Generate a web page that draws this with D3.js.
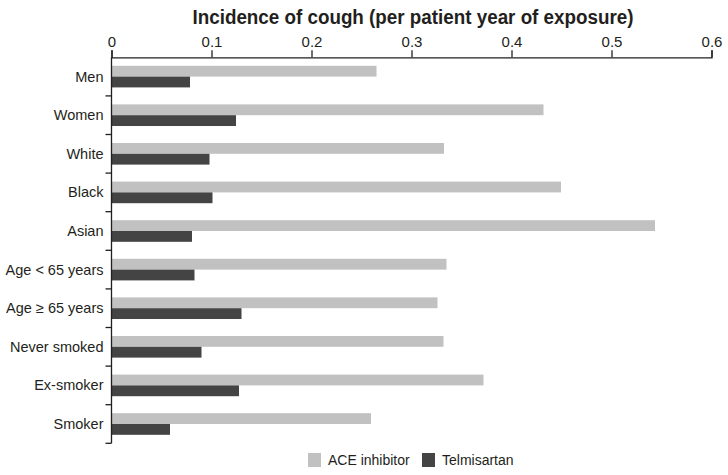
<!DOCTYPE html>
<html>
<head>
<meta charset="utf-8">
<script src="https://cdn.jsdelivr.net/npm/d3@7"></script>
<style>
  body { margin: 0; background: #fff; }
  text { font-family: "Liberation Sans", Arial, sans-serif; fill: #231f20; }
</style>
</head>
<body>
<svg width="728" height="475"></svg>
<script>
var categories = ["Men", "Women", "White", "Black", "Asian", "Age < 65 years",
                  "Age \u2265 65 years", "Never smoked", "Ex-smoker", "Smoker"];
var seriesNames = ["ACE inhibitor", "Telmisartan"];
var aceValues = [0.265, 0.432, 0.3325, 0.4495, 0.5435, 0.335, 0.326, 0.332, 0.372, 0.2595];
var telmiValues = [0.0785, 0.1245, 0.098, 0.101, 0.0805, 0.083, 0.13, 0.090, 0.1275, 0.0585];
var xTicks = [0, 0.1, 0.2, 0.3, 0.4, 0.5, 0.6];
var colors = ["#c1c1c1", "#444444"];

var svg = d3.select("svg"),
    margin = {top: 57.3, left: 111.5},
    width = 600,
    height = 386,
    g = svg.append("g").attr("transform", "translate(" + margin.left + "," + margin.top + ")");

var data = categories.map(function(c, i) {
  return {cat: c, values: [aceValues[i], telmiValues[i]]};
});

var x = d3.scaleLinear().domain([0, 0.6]).range([0, width]);

var y = d3.scaleBand()
    .domain(categories)
    .range([0, height])
    .paddingInner(0.44)
    .paddingOuter(0.22);

var y1 = d3.scaleBand()
    .domain([0, 1])
    .range([0, y.bandwidth()]);

// title
svg.append("text")
    .attr("x", 413)
    .attr("y", 24)
    .attr("text-anchor", "middle")
    .attr("font-size", 20)
    .attr("font-weight", "bold")
    .attr("textLength", 441)
    .attr("lengthAdjust", "spacingAndGlyphs")
    .text("Incidence of cough (per patient year of exposure)");

// bars
var rows = g.selectAll(".row")
  .data(data)
  .enter().append("g")
    .attr("class", "row")
    .attr("transform", function(d) { return "translate(0," + y(d.cat) + ")"; });

rows.selectAll("rect")
  .data(function(d) { return d.values; })
  .enter().append("rect")
    .attr("x", x(0))
    .attr("y", function(d, i) { return y1(i); })
    .attr("width", function(d) { return x(d) - x(0); })
    .attr("height", y1.bandwidth())
    .attr("fill", function(d, i) { return colors[i]; });

// top axis
var xAxis = g.append("g")
    .call(d3.axisTop(x).tickValues(xTicks).tickFormat(d3.format("")).tickSize(7).tickPadding(3));
xAxis.select(".domain").attr("stroke", "#231f20").attr("stroke-width", 1.3);
xAxis.selectAll(".tick line").attr("stroke", "#231f20").attr("stroke-width", 1.3);
xAxis.selectAll(".tick text")
    .attr("font-size", 15)
    .attr("font-family", "Liberation Sans, Arial, sans-serif")
    .attr("fill", "#231f20");

// left axis: line, ticks between categories, labels
g.append("line")
    .attr("x1", 0).attr("x2", 0)
    .attr("y1", 0).attr("y2", height)
    .attr("stroke", "#231f20")
    .attr("stroke-width", 1.3);

var bounds = d3.range(1, categories.length + 1).map(function(i) { return i * y.step(); });
g.selectAll(".ytick")
  .data(bounds)
  .enter().append("line")
    .attr("class", "ytick")
    .attr("x1", -6).attr("x2", 0)
    .attr("y1", function(d) { return d; })
    .attr("y2", function(d) { return d; })
    .attr("stroke", "#231f20")
    .attr("stroke-width", 1.3);

g.selectAll(".ylabel")
  .data(categories)
  .enter().append("text")
    .attr("class", "ylabel")
    .attr("x", -8)
    .attr("y", function(d) { return y(d) + y.bandwidth() / 2; })
    .attr("dy", "0.35em")
    .attr("text-anchor", "end")
    .attr("font-size", 14.5)
    .text(function(d) { return d; });

// legend
var legendX = [308, 422];
var legend = svg.selectAll(".legend")
  .data(seriesNames)
  .enter().append("g")
    .attr("class", "legend")
    .attr("transform", function(d, i) { return "translate(" + legendX[i] + ",453)"; });

legend.append("rect")
    .attr("width", 13)
    .attr("height", 14)
    .attr("fill", function(d, i) { return colors[i]; });

legend.append("text")
    .attr("x", 20)
    .attr("y", 12)
    .attr("font-size", 14)
    .text(function(d) { return d; });
</script>
</body>
</html>
